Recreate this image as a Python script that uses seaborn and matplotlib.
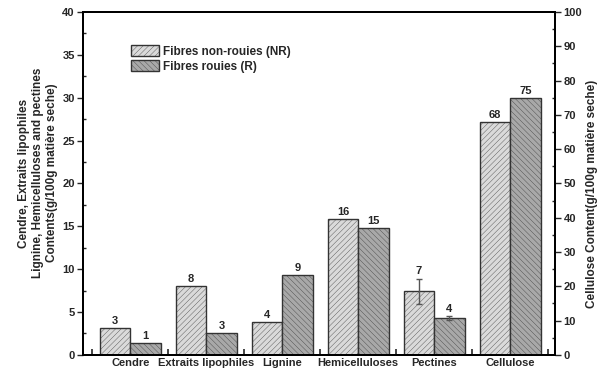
import numpy as np
import pandas as pd
import seaborn as sns
import matplotlib.pyplot as plt
from matplotlib.ticker import MultipleLocator

# categories and fibres
categories = ["Cendre", "Extraits lipophiles", "Lignine", "Hemicelluloses", "Pectines", "Cellulose"]
fibres = ["Fibres non-rouies (NR)", "Fibres rouies (R)"]

# values (Cellulose is on the right axis)
nr_values = [3.1, 8.0, 3.85, 15.8, 7.4, 68.0]
r_values = [1.4, 2.55, 9.3, 14.8, 4.3, 75.0]
nr_err = [0, 0, 0, 0, 1.5, 0]
r_err = [0, 0, 0, 0, 0.2, 0]
nr_labels = ["3", "8", "4", "16", "7", "68"]
r_labels = ["1", "3", "9", "15", "4", "75"]

sns.set_style("ticks")
plt.rcParams['font.family'] = ['Liberation Sans', 'DejaVu Sans']
plt.rcParams['font.weight'] = 'bold'
plt.rcParams['hatch.linewidth'] = 0.25

rows = []
for i, c in enumerate(categories):
    rows.append([c, fibres[0], nr_values[i], nr_err[i], nr_labels[i]])
    rows.append([c, fibres[1], r_values[i], r_err[i], r_labels[i]])
df = pd.DataFrame(rows, columns=["Category", "Fibre", "Value", "Err", "Label"])
left_df = df[df.Category != "Cellulose"]
right_df = df[df.Category == "Cellulose"]

colors = ["#dadada", "#a8a8a8"]
hatches = ["//////", "\\\\\\\\\\\\"]

fig = plt.figure(figsize=(6.02, 3.72), dpi=100)
ax = fig.add_axes([0.138, 0.046, 0.784, 0.922])

sns.barplot(ax=ax, data=left_df, x="Category", y="Value", hue="Fibre", order=categories,
            hue_order=fibres, palette=colors, width=0.8, errorbar=None,
            edgecolor="#333333", linewidth=1.0, saturation=1)
ax2 = ax.twinx()
sns.barplot(ax=ax2, data=right_df, x="Category", y="Value", hue="Fibre", order=categories,
            hue_order=fibres, palette=colors, width=0.8, errorbar=None,
            edgecolor="#333333", linewidth=1.0, saturation=1, legend=False)


def decorate(axis, data, scale):
    for bar in axis.patches:
        h = bar.get_height()
        if np.isnan(h) or bar.get_width() == 0:
            continue
        xc = bar.get_x() + bar.get_width() / 2
        cat = categories[int(round(xc))]
        fib = 0 if xc < round(xc) else 1
        row = data[(data.Category == cat) & (data.Fibre == fibres[fib])]
        if row.empty:
            continue
        row = row.iloc[0]
        bar.set_hatch(hatches[fib])
        if row.Err > 0:
            axis.errorbar(xc, row.Value, yerr=row.Err, color="#555555", capsize=2,
                          elinewidth=1, capthick=1)
        axis.text(xc, row.Value + row.Err + 0.25 * scale, row.Label, ha="center", va="bottom",
                  fontsize=8, fontweight="bold")


decorate(ax, left_df, 1)
decorate(ax2, right_df, 2.5)

ax.set_xlim(-0.62, 5.59)
ax.set_ylim(0, 40)
ax2.set_ylim(0, 100)
ax.yaxis.set_major_locator(MultipleLocator(5))
ax.yaxis.set_minor_locator(MultipleLocator(2.5))
ax2.yaxis.set_major_locator(MultipleLocator(10))
ax2.yaxis.set_minor_locator(MultipleLocator(5))

ax.set_xlabel("")
ax.set_ylabel("Cendre, Extraits lipophiles\nLignine, Hemicelluloses and pectines\nContents(g/100g matière seche)",
              fontsize=8.5, fontweight="bold", labelpad=3)
ax2.set_ylabel("Cellulose Content(g/100g matière seche)", fontsize=8.5, fontweight="bold", labelpad=3)
ax2.set_xlabel("")
ax.yaxis.label.set_y(0.53)
ax2.yaxis.label.set_y(0.47)

ax.set_xticks(range(len(categories)))
ax.set_xticklabels(categories, fontweight="bold")
ax.tick_params(axis="x", length=0, labelsize=8, pad=2)
ax.set_xticks(np.arange(-0.5, 6, 1), minor=True)
ax.tick_params(axis="x", which="minor", direction="in", length=4, width=1.2)
ax.tick_params(axis="y", which="major", length=4, width=1, labelsize=8, pad=2)
ax.tick_params(axis="y", which="minor", direction="in", length=2, width=1)
ax2.tick_params(axis="y", which="major", length=4, width=1, labelsize=8, pad=2)
ax2.tick_params(axis="y", which="minor", direction="in", length=2, width=1)
for lbl in ax.get_yticklabels() + ax2.get_yticklabels():
    lbl.set_fontweight("bold")

for a in (ax, ax2):
    for s in a.spines.values():
        s.set_linewidth(1.4)
        s.set_color("black")
        s.set_visible(True)

handles, labels = ax.get_legend_handles_labels()
for h, hatch in zip(handles, hatches):
    h.set_hatch(hatch)
ax.legend(handles, labels, loc="upper left", bbox_to_anchor=(0.08, 0.935), frameon=False,
          handlelength=2.3, handleheight=1.1, labelspacing=0.2, handletextpad=0.4,
          prop={"weight": "bold", "size": 8.5})

fig.savefig("out.png", dpi=100)
